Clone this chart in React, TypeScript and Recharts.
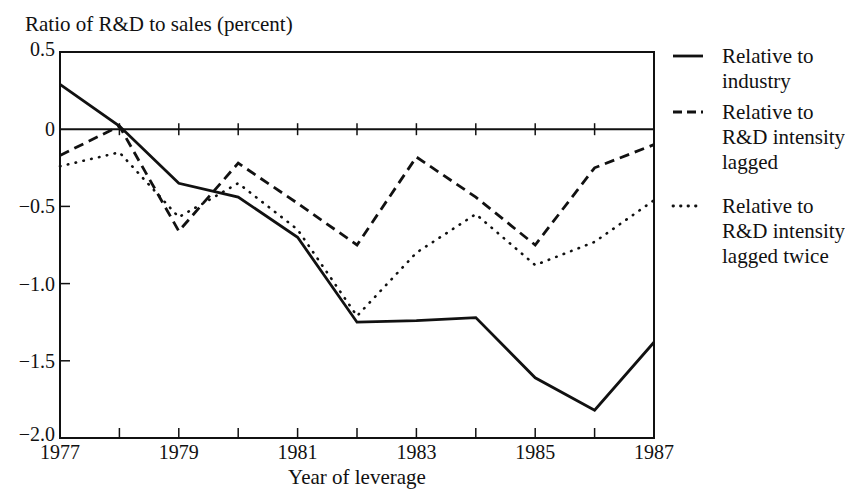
import React from 'react';
import { LineChart, Line, XAxis, YAxis, ReferenceLine, ReferenceArea, ReferenceDot } from 'recharts';

// values
const years = [1977, 1978, 1979, 1980, 1981, 1982, 1983, 1984, 1985, 1986, 1987];
const industry = [0.29, 0.02, -0.35, -0.44, -0.7, -1.25, -1.24, -1.22, -1.61, -1.82, -1.38];
const lagged = [-0.17, 0.02, -0.66, -0.22, -0.48, -0.75, -0.18, -0.44, -0.75, -0.25, -0.1];
const laggedTwice = [-0.24, -0.15, -0.57, -0.35, -0.65, -1.21, -0.8, -0.55, -0.88, -0.73, -0.46];

const yTicks = [-2, -1.5, -1, -0.5, 0, 0.5];
const yTickLabels = ['\u22122.0', '\u22121.5', '\u22121.0', '\u22120.5', '0', '0.5'];
const xLabelYears = [1977, 1979, 1981, 1983, 1985, 1987];

const FONT = '"Liberation Serif", "Times New Roman", serif';
const INK = '#111';

const data = years.map((year, i) => ({
  year,
  industry: industry[i],
  lagged: lagged[i],
  laggedTwice: laggedTwice[i],
}));

const innerYears = years.slice(1, -1);

const XTick = (props: any) => {
  const { x, y, payload } = props;
  const yr = payload.value;
  return (
    <g>
      {innerYears.includes(yr) && <line x1={x} x2={x} y1={y} y2={y - 10} stroke={INK} strokeWidth={1.5} />}
      {xLabelYears.includes(yr) && (
        <text x={x} y={y + 21} textAnchor="middle" fontFamily={FONT} fontSize={20} fill={INK}>
          {yr}
        </text>
      )}
    </g>
  );
};

const YTick = (props: any) => {
  const { x, y, payload } = props;
  const idx = yTicks.indexOf(payload.value);
  const inner = payload.value > -2 && payload.value < 0;
  // the end labels sit a little above their line, as in the print
  const shift = payload.value === 0.5 ? -3 : payload.value === -2 ? -4 : 0;
  return (
    <g>
      {inner && <line x1={x} x2={x + 10} y1={y} y2={y} stroke={INK} strokeWidth={1.5} />}
      <text x={x - 5} y={y + 7 + shift} textAnchor="end" fontFamily={FONT} fontSize={20} fill={INK}>
        {yTickLabels[idx]}
      </text>
    </g>
  );
};

const ZeroTick = (props: any) => {
  const { cx, cy } = props;
  return <line x1={cx} x2={cx} y1={cy - 6} y2={cy + 6} stroke={INK} strokeWidth={1.5} />;
};

const textStyle: React.CSSProperties = {
  position: 'absolute',
  fontFamily: FONT,
  fontSize: 21,
  color: INK,
  lineHeight: '25px',
  whiteSpace: 'nowrap',
};

const legendItems = [
  { lines: ['Relative to', 'industry'], top: 44, dash: undefined as string | undefined, cap: 'butt' },
  { lines: ['Relative to', 'R&D intensity', 'lagged'], top: 100, dash: '9 5', cap: 'butt' },
  { lines: ['Relative to', 'R&D intensity', 'lagged twice'], top: 194, dash: '0.5 7', cap: 'round' },
];

const App: React.FC = () => {
  return (
    <div style={{ position: 'absolute', left: 0, top: 0, width: 845, height: 499, background: '#fff' }}>
      <LineChart width={845} height={499} data={data} margin={{ top: 52, right: 191, left: 0, bottom: 0 }}>
        <XAxis
          dataKey="year"
          type="number"
          domain={[1977, 1987]}
          ticks={years}
          interval={0}
          tickSize={0}
          tickMargin={0}
          height={61}
          axisLine={{ stroke: INK, strokeWidth: 2 }}
          tick={<XTick />}
        />
        <YAxis
          type="number"
          domain={[-2, 0.5]}
          ticks={yTicks}
          interval={0}
          tickSize={0}
          tickMargin={0}
          width={60}
          axisLine={{ stroke: INK, strokeWidth: 2 }}
          tick={<YTick />}
        />
        <ReferenceArea x1={1977} x2={1987} y1={-2} y2={0.5} fill="none" stroke={INK} strokeWidth={2} ifOverflow="visible" />
        <ReferenceLine y={0} stroke={INK} strokeWidth={2} />
        {innerYears.map((yr) => (
          <ReferenceDot key={yr} x={yr} y={0} r={0} shape={<ZeroTick />} />
        ))}
        <Line dataKey="industry" stroke={INK} strokeWidth={2.8} dot={false} isAnimationActive={false} />
        <Line dataKey="lagged" stroke={INK} strokeWidth={2.8} strokeDasharray="10 6" dot={false} isAnimationActive={false} />
        <Line
          dataKey="laggedTwice"
          stroke={INK}
          strokeWidth={2.6}
          strokeDasharray="0.5 7.5"
          strokeLinecap="round"
          dot={false}
          isAnimationActive={false}
        />
      </LineChart>

      <div style={{ ...textStyle, left: 25, top: 12 }}>Ratio of R&amp;D to sales (percent)</div>
      <div style={{ ...textStyle, left: 357, top: 465, transform: 'translateX(-50%)' }}>Year of leverage</div>

      {legendItems.map((item, i) => (
        <div key={i} style={{ position: 'absolute', left: 670, top: item.top }}>
          <svg width={36} height={25} style={{ position: 'absolute', left: 0, top: 0 }}>
            <line
              x1={3}
              x2={33}
              y1={12}
              y2={12}
              stroke={INK}
              strokeWidth={2.8}
              strokeDasharray={item.dash}
              strokeLinecap={item.cap as any}
            />
          </svg>
          {item.lines.map((t, j) => (
            <div key={j} style={{ ...textStyle, left: 52, top: j * 25 }}>
              {t}
            </div>
          ))}
        </div>
      ))}
    </div>
  );
};

export default App;
